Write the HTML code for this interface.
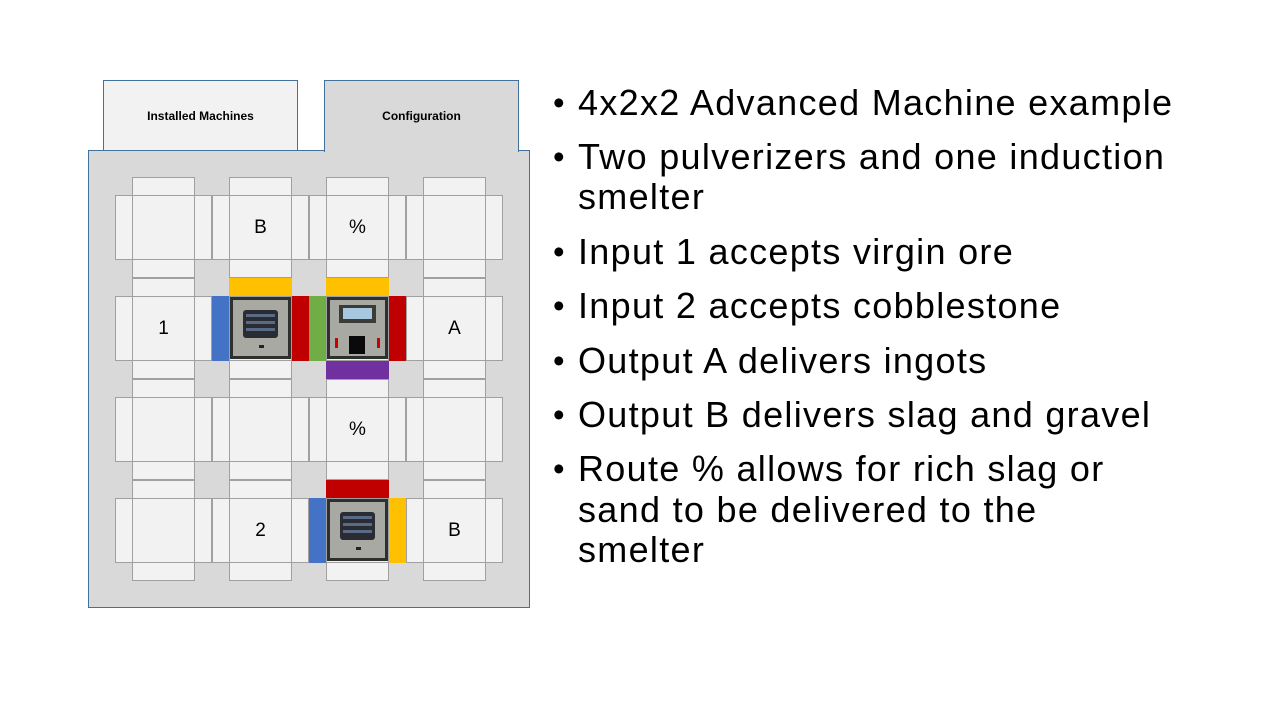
<!DOCTYPE html>
<html><head><meta charset="utf-8"><style>
body{margin:0;width:1280px;height:720px;background:#fff;position:relative;overflow:hidden;font-family:"Liberation Sans",sans-serif}
.a{position:absolute;box-sizing:border-box}
.c{background:#f2f2f2;border:1px solid #a0a0a0}
.lbl{font-size:19px;display:flex;align-items:center;justify-content:center;color:#000}
.t{position:absolute;left:578px;font-size:36px;letter-spacing:1.3px;color:#000;white-space:nowrap;line-height:40px}
.b{position:absolute;left:553px;font-size:33px;line-height:40px}
.pulv{background:#2e302e;padding:3px}
.pulv>div{width:100%;height:100%;background:#a9a9a4;position:relative}
</style></head><body>
<div class="a" style="left:103px;top:80px;width:195px;height:71px;background:#f2f2f2;border:1px solid #41719c;border-bottom:none;font-size:12px;font-weight:bold;display:flex;align-items:center;justify-content:center">Installed Machines</div>
<div class="a" style="left:88px;top:150px;width:442px;height:458px;background:#d9d9d9;border:1px solid #41719c"></div>
<div class="a" style="left:324px;top:80px;width:195px;height:72px;background:#d9d9d9;border:1px solid #41719c;border-bottom:none;font-size:12px;font-weight:bold;display:flex;align-items:center;justify-content:center;padding-bottom:2px">Configuration</div>
<div id="g"></div>
<script>
var g=document.getElementById('g'),h='';
var cx=[132,229,326,423],ry=[195,296,397,498];
for(var r=0;r<4;r++)for(var c=0;c<4;c++){var x=cx[c],y=ry[r];
h+='<div class="a c" style="left:'+x+'px;top:'+(y-18)+'px;width:63px;height:19px"></div>';
h+='<div class="a c" style="left:'+x+'px;top:'+(y+64)+'px;width:63px;height:19px"></div>';
h+='<div class="a c" style="left:'+(x-17)+'px;top:'+y+'px;width:18px;height:65px"></div>';
h+='<div class="a c" style="left:'+(x+62)+'px;top:'+y+'px;width:18px;height:65px"></div>';
h+='<div class="a c" style="left:'+x+'px;top:'+y+'px;width:63px;height:65px"></div>';}
g.innerHTML=h;
</script>
<div class="a lbl" style="left:229px;top:195px;width:63px;height:65px">B</div>
<div class="a lbl" style="left:326px;top:195px;width:63px;height:65px">%</div>
<div class="a lbl" style="left:132px;top:296px;width:63px;height:65px">1</div>
<div class="a lbl" style="left:423px;top:296px;width:63px;height:65px">A</div>
<div class="a lbl" style="left:326px;top:397px;width:63px;height:65px">%</div>
<div class="a lbl" style="left:229px;top:498px;width:63px;height:65px">2</div>
<div class="a lbl" style="left:423px;top:498px;width:63px;height:65px">B</div>
<div class="a" style="left:229px;top:278px;width:63px;height:18px;background:#ffc000"></div>
<div class="a" style="left:212px;top:296px;width:17px;height:65px;background:#4472c4"></div>
<div class="a" style="left:292px;top:296px;width:17px;height:65px;background:#c00000"></div>
<div class="a" style="left:309px;top:296px;width:17px;height:65px;background:#70ad47"></div>
<div class="a" style="left:326px;top:278px;width:63px;height:18px;background:#ffc000"></div>
<div class="a" style="left:389px;top:296px;width:17px;height:65px;background:#c00000"></div>
<div class="a" style="left:326px;top:361px;width:63px;height:18px;background:#7030a0"></div>
<div class="a" style="left:326px;top:480px;width:63px;height:18px;background:#c00000"></div>
<div class="a" style="left:309px;top:498px;width:17px;height:65px;background:#4472c4"></div>
<div class="a" style="left:389px;top:498px;width:17px;height:65px;background:#ffc000"></div>
<div class="a pulv" style="left:230px;top:297px;width:61px;height:62px"><div>
<div class="a" style="left:10px;top:10px;width:35px;height:28px;background:#2a2c33;border-radius:3px"></div>
<div class="a" style="left:13px;top:14px;width:29px;height:3px;background:#5a6a85"></div>
<div class="a" style="left:13px;top:21px;width:29px;height:3px;background:#5a6a85"></div>
<div class="a" style="left:13px;top:28px;width:29px;height:3px;background:#5a6a85"></div>
<div class="a" style="left:26px;top:45px;width:5px;height:3px;background:#222"></div></div></div>
<div class="a pulv" style="left:327px;top:297px;width:61px;height:62px"><div>
<div class="a" style="left:9px;top:5px;width:37px;height:18px;background:#3a3c3a"></div>
<div class="a" style="left:13px;top:8px;width:29px;height:11px;background:#a8c8e0"></div>
<div class="a" style="left:19px;top:36px;width:16px;height:18px;background:#0a0a0a"></div>
<div class="a" style="left:5px;top:38px;width:3px;height:10px;background:#c00"></div>
<div class="a" style="left:47px;top:38px;width:3px;height:10px;background:#c00"></div></div></div>
<div class="a pulv" style="left:327px;top:499px;width:61px;height:62px"><div>
<div class="a" style="left:10px;top:10px;width:35px;height:28px;background:#2a2c33;border-radius:3px"></div>
<div class="a" style="left:13px;top:14px;width:29px;height:3px;background:#5a6a85"></div>
<div class="a" style="left:13px;top:21px;width:29px;height:3px;background:#5a6a85"></div>
<div class="a" style="left:13px;top:28px;width:29px;height:3px;background:#5a6a85"></div>
<div class="a" style="left:26px;top:45px;width:5px;height:3px;background:#222"></div></div></div>
<div class="b" style="top:83px">•</div><div class="t" style="top:83px">4x2x2 Advanced Machine example</div>
<div class="b" style="top:137px">•</div><div class="t" style="top:137px">Two pulverizers and one induction</div>
<div class="t" style="top:177px">smelter</div>
<div class="b" style="top:232px">•</div><div class="t" style="top:232px">Input 1 accepts virgin ore</div>
<div class="b" style="top:286px">•</div><div class="t" style="top:286px">Input 2 accepts cobblestone</div>
<div class="b" style="top:341px">•</div><div class="t" style="top:341px">Output A delivers ingots</div>
<div class="b" style="top:395px">•</div><div class="t" style="top:395px">Output B delivers slag and gravel</div>
<div class="b" style="top:449px">•</div><div class="t" style="top:449px">Route % allows for rich slag or</div>
<div class="t" style="top:490px">sand to be delivered to the</div>
<div class="t" style="top:530px">smelter</div>
</body></html>
